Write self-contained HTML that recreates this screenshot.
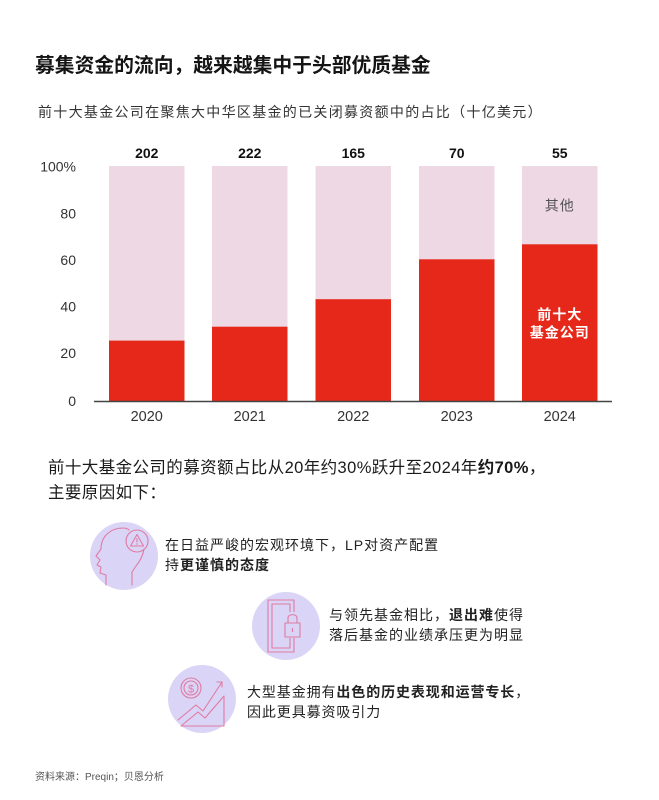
<!DOCTYPE html>
<html>
<head>
<meta charset="utf-8">
<style>
  html,body{margin:0;padding:0;background:#fff;}
  body{width:659px;height:800px;position:relative;overflow:hidden;font-family:"Liberation Sans","Noto Sans CJK SC",sans-serif;}
  .t{position:absolute;white-space:nowrap;}
  b{font-weight:bold;}
</style>
</head>
<body>

<div class="t" style="left:35px;top:54px;font-size:19.8px;line-height:24px;font-weight:bold;color:#141414;">募集资金的流向，越来越集中于头部优质基金</div>

<div class="t" style="left:38px;top:102px;font-size:14px;line-height:20px;letter-spacing:1.3px;color:#333;">前十大基金公司在聚焦大中华区基金的已关闭募资额中的占比（十亿美元）</div>

<svg style="position:absolute;left:0;top:0;" width="659" height="800" viewBox="0 0 659 800" font-family="Liberation Sans, Noto Sans CJK SC, sans-serif">
  <g fill="#eed8e4">
    <rect x="109" y="166" width="75.5" height="235"/>
    <rect x="212" y="166" width="75.5" height="235"/>
    <rect x="315.5" y="166" width="75.5" height="235"/>
    <rect x="419" y="166" width="75.5" height="235"/>
    <rect x="522" y="166" width="75.5" height="235"/>
  </g>
  <g fill="#e5281a">
    <rect x="109" y="340.6" width="75.5" height="60.4"/>
    <rect x="212" y="326.7" width="75.5" height="74.3"/>
    <rect x="315.5" y="299.2" width="75.5" height="101.8"/>
    <rect x="419" y="259.3" width="75.5" height="141.7"/>
    <rect x="522" y="244.3" width="75.5" height="156.7"/>
  </g>
  <line x1="94" y1="401.5" x2="612" y2="401.5" stroke="#444" stroke-width="1.5"/>

  <g font-size="14" fill="#333" text-anchor="end">
    <text x="76" y="171.7">100%</text>
    <text x="76" y="218.5">80</text>
    <text x="76" y="265">60</text>
    <text x="76" y="311.7">40</text>
    <text x="76" y="358">20</text>
    <text x="76" y="406">0</text>
  </g>
  <g font-size="14" font-weight="bold" fill="#111" text-anchor="middle">
    <text x="146.75" y="158">202</text>
    <text x="249.75" y="158">222</text>
    <text x="353.25" y="158">165</text>
    <text x="456.75" y="158">70</text>
    <text x="559.75" y="158">55</text>
  </g>
  <g font-size="14.5" fill="#333" text-anchor="middle">
    <text x="146.75" y="421">2020</text>
    <text x="249.75" y="421">2021</text>
    <text x="353.25" y="421">2022</text>
    <text x="456.75" y="421">2023</text>
    <text x="559.75" y="421">2024</text>
  </g>
  <text x="559.75" y="210.5" font-size="14" letter-spacing="1" fill="#555" text-anchor="middle">其他</text>
  <g font-size="14" font-weight="bold" fill="#fff" text-anchor="middle" letter-spacing="1">
    <text x="559.75" y="319.5">前十大</text>
    <text x="559.75" y="337.5">基金公司</text>
  </g>

  <g fill="#dad5f6">
    <circle cx="124" cy="556" r="34"/>
    <circle cx="286" cy="626" r="34"/>
    <circle cx="202" cy="699" r="34"/>
  </g>

  <g fill="none" stroke="#e07aa3" stroke-width="1.1" stroke-linejoin="round" stroke-linecap="round">
    <path d="M106 585 L106 575 L100 573 L101 567 L97 565 L100 560 L96 556 L101 549 C101 536 111 528 123 528 C126 528 128 529 129 530"/>
    <path d="M144 549 C143 556 140 561 136 566 L132 572 L132 585"/>
    <circle cx="137" cy="541" r="11"/>
    <path d="M137 534.5 L143.5 546 L130.5 546 Z"/>
    <line x1="137" y1="538.5" x2="137" y2="542"/>
    <line x1="137" y1="543.8" x2="137" y2="544.3"/>
  </g>

  <g fill="none" stroke="#e07aa3" stroke-width="1.1" stroke-linejoin="round">
    <path d="M294 612 L294 600 L268 600 L268 652 L294 652 L294 638"/>
    <path d="M290 612 L290 604 L272 604 L272 648 L290 648 L290 638"/>
    <rect x="285" y="623" width="15" height="14"/>
    <path d="M288 623 L288 618 C288 613.5 297 613.5 297 618 L297 623"/>
    <line x1="292.5" y1="628" x2="292.5" y2="632"/>
  </g>

  <g fill="none" stroke="#e07aa3" stroke-width="1.1" stroke-linejoin="round" stroke-linecap="round">
    <circle cx="191" cy="688" r="10"/>
    <circle cx="191" cy="688" r="7"/>
    <path d="M178 720 L196 705 L203 711 L222 682"/>
    <path d="M217 682 L222 682 L222 687"/>
    <path d="M181 726 L198 712 L205 718 L224 696 L224 726 Z"/>
  </g>
  <text x="191" y="692.5" font-size="11" fill="#e07aa3" text-anchor="middle">$</text>
</svg>

<div class="t" style="left:48px;top:456px;font-size:16.5px;line-height:25px;letter-spacing:0.4px;color:#1a1a1a;">前十大基金公司的募资额占比从20年约30%跃升至2024年<b>约70%</b>，<br>主要原因如下：</div>

<div class="t" style="left:165px;top:535px;font-size:14px;line-height:20px;letter-spacing:1px;color:#222;">在日益严峻的宏观环境下，LP对资产配置<br>持<b>更谨慎的态度</b></div>

<div class="t" style="left:329px;top:605px;font-size:14px;line-height:20px;letter-spacing:1px;color:#222;">与领先基金相比，<b>退出难</b>使得<br>落后基金的业绩承压更为明显</div>

<div class="t" style="left:247px;top:683px;font-size:14px;line-height:19.5px;letter-spacing:0.9px;color:#222;">大型基金拥有<b>出色的历史表现和运营专长</b>，<br>因此更具募资吸引力</div>

<div class="t" style="left:35px;top:771px;font-size:10px;line-height:14px;color:#555;">资料来源：Preqin；贝恩分析</div>

</body>
</html>
